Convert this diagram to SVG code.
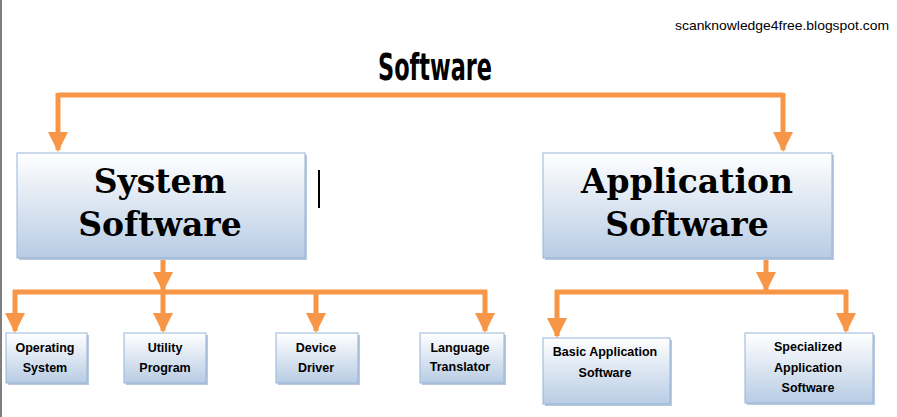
<svg xmlns="http://www.w3.org/2000/svg" width="897" height="417" viewBox="0 0 897 417">
<style>
.c{fill:none;stroke:#f79646;stroke-width:5}
.b{stroke:#95b3d7;stroke-width:1;fill:url(#g)}
.s{fill:#b9c9de}
.t{font-family:"Liberation Sans",sans-serif;font-weight:bold;font-size:12.5px;text-anchor:middle;fill:#000}
.big{font-family:"DejaVu Serif",serif;font-weight:bold;font-size:33px;text-anchor:middle;fill:#000}
</style>
<defs>
<linearGradient id="g" x1="0" y1="0" x2="0" y2="1"><stop offset="0" stop-color="#ffffff"/><stop offset="1" stop-color="#b8cce4"/></linearGradient>
<marker id="a" markerWidth="4.4" markerHeight="4" refX="3.6" refY="2" orient="auto" markerUnits="strokeWidth"><path d="M0,0L4,2L0,4z" fill="#f79646"/></marker>
</defs>
<rect width="897" height="417" fill="#fff"/>
<rect x="0" y="0" width="2" height="417" fill="#7f7f7f"/>
<text x="675" y="30" font-family="Liberation Sans,sans-serif" font-size="13" textLength="214" lengthAdjust="spacingAndGlyphs">scanknowledge4free.blogspot.com</text>
<text x="435" y="80" font-family="DejaVu Sans Condensed,DejaVu Sans,sans-serif" font-weight="bold" font-size="38" text-anchor="middle" textLength="114" lengthAdjust="spacingAndGlyphs">Software</text>
<rect x="318" y="170" width="2" height="38" fill="#000"/>
<g id="connectors">
<path class="c" d="M58,95H783"/>
<path class="c" marker-end="url(#a)" d="M58,93V150"/>
<path class="c" marker-end="url(#a)" d="M783,93V150"/>
<path class="c" marker-end="url(#a)" d="M163,258V290"/>
<path class="c" d="M13,292H487"/>
<path class="c" marker-end="url(#a)" d="M15,290V331"/>
<path class="c" marker-end="url(#a)" d="M163,290V331"/>
<path class="c" marker-end="url(#a)" d="M316,290V331"/>
<path class="c" marker-end="url(#a)" d="M485,290V331"/>
<path class="c" marker-end="url(#a)" d="M766,258V290"/>
<path class="c" d="M555,292H848"/>
<path class="c" marker-end="url(#a)" d="M557,290V336"/>
<path class="c" marker-end="url(#a)" d="M846,290V331"/>
</g>
<g id="system"><rect class="s" x="19" y="155" width="288" height="105"/><rect class="b" x="17" y="153" width="288" height="105"/><text class="big" x="160" y="193">System</text><text class="big" x="160" y="236">Software</text></g>
<g id="application"><rect class="s" x="545" y="155" width="289" height="105"/><rect class="b" x="543" y="153" width="289" height="105"/><text class="big" x="687" y="193">Application</text><text class="big" x="687" y="236">Software</text></g>
<g id="os"><rect class="s" x="8" y="335" width="81" height="50"/><rect class="b" x="6" y="333" width="81" height="50"/><text class="t" x="45" y="352">Operating</text><text class="t" x="45" y="372">System</text></g>
<g id="utility"><rect class="s" x="126" y="335" width="82" height="50"/><rect class="b" x="124" y="333" width="82" height="50"/><text class="t" x="165" y="352">Utility</text><text class="t" x="165" y="372">Program</text></g>
<g id="device"><rect class="s" x="278" y="335" width="82" height="50"/><rect class="b" x="276" y="333" width="82" height="50"/><text class="t" x="316" y="352">Device</text><text class="t" x="316" y="372">Driver</text></g>
<g id="language"><rect class="s" x="422" y="335" width="84" height="50"/><rect class="b" x="420" y="333" width="84" height="50"/><text class="t" x="460" y="352">Language</text><text class="t" x="460" y="371" font-size="11">Translator</text></g>
<g id="basic"><rect class="s" x="545" y="340" width="127" height="66"/><rect class="b" x="543" y="338" width="127" height="66"/><text class="t" x="605" y="356">Basic Application</text><text class="t" x="605" y="377">Software</text></g>
<g id="specialized"><rect class="s" x="747" y="335" width="128" height="70"/><rect class="b" x="745" y="333" width="128" height="70"/><text class="t" x="808" y="351">Specialized</text><text class="t" x="808" y="372">Application</text><text class="t" x="808" y="392">Software</text></g>
</svg>
